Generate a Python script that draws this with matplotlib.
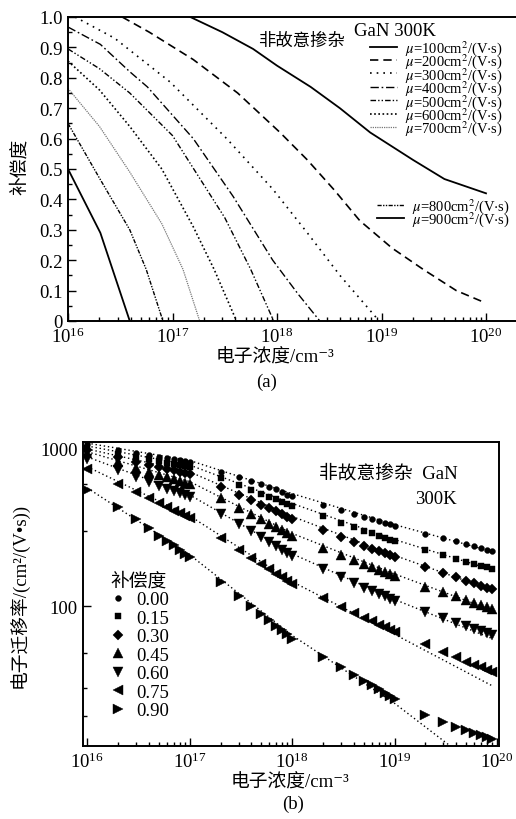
import numpy as np
import matplotlib
matplotlib.use('Agg')
import matplotlib.pyplot as plt
from matplotlib.ticker import LogLocator, FixedLocator, NullFormatter, MultipleLocator, FuncFormatter

plt.rcParams['font.family'] = ['Liberation Serif', 'Noto Sans CJK SC', 'DejaVu Serif']
plt.rcParams['mathtext.fontset'] = 'stix'
plt.rcParams['axes.unicode_minus'] = False

# ---------------- panel (a) data: compensation vs electron concentration ----------------
mu_values = [100, 200, 300, 400, 500, 600, 700, 800, 900]
n_mu100 = [1.48e17, 3.0e17, 5.9e17, 1.0e18, 2.1e18, 4.0e18, 7.8e18, 2.0e19, 4.0e19, 1.0e20]
c_mu100 = [1.0, 0.95, 0.895, 0.84, 0.77, 0.70, 0.62, 0.53, 0.467, 0.42]
n_mu200 = [3.3e16, 6.0e16, 1.58e17, 4.2e17, 1.07e18, 1.95e18, 3.55e18, 6.2e18, 1.26e19, 2.5e19, 5.2e19, 9.8e19]
c_mu200 = [1.0, 0.95, 0.86, 0.75, 0.62, 0.53, 0.43, 0.33, 0.24, 0.17, 0.10, 0.06]
n_mu300 = [1.17e16, 2.8e16, 9.5e16, 3.3e17, 9.1e17, 1.95e18, 4.0e18, 9.5e18]
c_mu300 = [1.0, 0.93, 0.786, 0.60, 0.434, 0.29, 0.15, 0.0]
n_mu400 = [1e16, 2.04e16, 3.9e16, 5.75e16, 1.58e17, 3.8e17, 9.1e17, 1.58e18, 2.57e18]
c_mu400 = [0.967, 0.91, 0.82, 0.77, 0.60, 0.41, 0.20, 0.09, 0.0]
n_mu500 = [1e16, 2e16, 3.9e16, 1e17, 3.16e17, 5.6e17, 9.3e17]
c_mu500 = [0.895, 0.83, 0.75, 0.61, 0.34, 0.17, 0.0]
n_mu600 = [1e16, 2e16, 3.9e16, 7.9e16, 1.58e17, 2.5e17, 4.1e17]
c_mu600 = [0.855, 0.76, 0.64, 0.50, 0.31, 0.17, 0.0]
n_mu700 = [1e16, 2e16, 3.9e16, 7.9e16, 1.26e17, 1.82e17]
c_mu700 = [0.765, 0.64, 0.49, 0.32, 0.17, 0.0]
n_mu800 = [1e16, 2e16, 3.9e16, 5.6e16, 8.1e16]
c_mu800 = [0.65, 0.47, 0.30, 0.17, 0.0]
n_mu900 = [1e16, 2.04e16, 3.9e16]
c_mu900 = [0.50, 0.29, 0.0]

# ---------------- panel (b) data: mobility vs electron concentration ----------------
n_points = [1e16, 2e16, 3e16, 4e16, 5e16, 6e16, 7e16, 8e16, 9e16,
            1e17, 2e17, 3e17, 4e17, 5e17, 6e17, 7e17, 8e17, 9e17,
            1e18, 2e18, 3e18, 4e18, 5e18, 6e18, 7e18, 8e18, 9e18,
            1e19, 2e19, 3e19, 4e19, 5e19, 6e19, 7e19, 8e19, 9e19]
comp_labels = ['0.00', '0.15', '0.30', '0.45', '0.60', '0.75', '0.90']
mob_c000 = [1070, 990, 946, 916, 893, 875, 860, 847, 836,
            826, 718, 660, 622, 598, 575, 553, 532, 512,
            501, 439, 407, 385, 369, 357, 347, 338, 331,
            324, 289, 270, 258, 248, 241, 235, 229, 225]
mob_c015 = [1020, 936, 891, 860, 836, 818, 803, 789, 778,
            768, 655, 592, 550, 520, 496, 477, 461, 447,
            434, 372, 339, 318, 302, 290, 281, 273, 265,
            259, 228, 211, 200, 192, 185, 180, 176, 172]
mob_c030 = [980, 883, 831, 796, 769, 749, 731, 716, 704,
            693, 573, 512, 471, 441, 418, 400, 384, 371,
            358, 303, 274, 256, 242, 232, 223, 216, 210,
            205, 177, 162, 152, 145, 140, 135, 131, 128]
mob_c045 = [940, 821, 759, 716, 686, 662, 642, 626, 611,
            599, 486, 424, 384, 356, 335, 318, 304, 291,
            279, 234, 211, 196, 185, 177, 170, 164, 159,
            155, 133, 122, 115, 109, 105, 101, 99, 96]
mob_c060 = [863, 730, 661, 617, 584, 559, 539, 521, 507,
            494, 388, 334, 299, 275, 256, 241, 229, 218,
            208, 171, 152, 140, 131, 125, 120, 115, 111,
            108, 92, 84, 78, 75, 71, 69, 67, 65]
mob_c075 = [750, 602, 530, 484, 451, 425, 405, 389, 374,
            362, 271, 228, 203, 185, 171, 160, 152, 144,
            138, 112, 99, 90, 84, 80, 76, 73, 70,
            68, 57, 51, 47, 44, 42, 41, 39, 38]
mob_c090 = [548, 425, 358, 312, 281, 260, 243, 226, 214,
            205, 143, 116, 100, 89, 81, 75, 70, 66,
            62, 47.5, 40.7, 36.4, 33.4, 31.2, 29.4, 27.9, 26.7,
            25.6, 20.2, 18.3, 17.0, 16.2, 15.5, 15.0, 14.6, 14.2]
n_fit = [1e16, 1e17, 1e18, 1e19, 9e19]
fit_c000 = [1090, 845, 520, 330, 222]
fit_c015 = [1045, 790, 450, 265, 170]
fit_c030 = [1000, 715, 372, 210, 126]
fit_c045 = [960, 620, 290, 160, 94]
fit_c060 = [890, 510, 215, 110, 62]
fit_c075 = [770, 375, 143, 66, 31]
fit_c090 = [565, 212, 65, 24, 8]

FS = 13.5
W, H = 516, 820
fig = plt.figure(figsize=(W / 100, H / 100), dpi=100)

def fx(px):
    return px / W

def fy(py):
    return 1 - py / H

# ================= panel (a) =================
ax1 = fig.add_axes([fx(68), fy(322), fx(516 - 68), (322 - 18) / H])
curves = [(n_mu100, c_mu100, dict(color='k', lw=1.3, ls='-')),
          (n_mu200, c_mu200, dict(color='k', lw=1.2, ls=(0, (5, 3)))),
          (n_mu300, c_mu300, dict(color='k', lw=1.2, ls=(0, (1, 3)))),
          (n_mu400, c_mu400, dict(color='k', lw=1.0, ls=(0, (6, 2, 1.2, 2)))),
          (n_mu500, c_mu500, dict(color='k', lw=1.0, ls=(0, (4, 1.5, 1, 1.5, 1, 1.5)))),
          (n_mu600, c_mu600, dict(color='k', lw=1.2, ls=(0, (1, 1.5)))),
          (n_mu700, c_mu700, dict(color='#777777', lw=0.9, ls=(0, (1, 0.8)))),
          (n_mu800, c_mu800, dict(color='k', lw=1.0, ls=(0, (3, 1, 1, 1, 1, 1)))),
          (n_mu900, c_mu900, dict(color='k', lw=1.3, ls='-'))]
handles = []
for (nx, cy, st), mu in zip(curves, mu_values):
    h, = ax1.plot(nx, cy, **st, label=r'$\mu$=%dcm$^2$/(V$\cdot$s)' % mu)
    handles.append(h)

ax1.set_xscale('log')
ax1.set_xlim(1e16, 10 ** (16 + 448 / 104.5))
ax1.set_ylim(0, 1.0)
ax1.xaxis.set_major_locator(FixedLocator([1e16, 1e17, 1e18, 1e19, 1e20]))
ax1.xaxis.set_minor_locator(LogLocator(base=10, subs=np.arange(2, 10), numticks=20))
ax1.xaxis.set_minor_formatter(NullFormatter())
ax1.xaxis.set_major_formatter(FuncFormatter(lambda v, p: r'$\mathdefault{10^{%d}}$' % round(np.log10(v))))
ax1.yaxis.set_major_locator(MultipleLocator(0.1))
ax1.yaxis.set_minor_locator(MultipleLocator(0.05))
ax1.yaxis.set_major_formatter(FuncFormatter(lambda v, p: '0' if abs(v) < 1e-9 else '%.1f' % v))
ax1.spines['right'].set_visible(False)
for s in ax1.spines.values():
    s.set_linewidth(1.4)
ax1.tick_params(which='both', direction='in', labelsize=FS, width=1.0)
ax1.tick_params(which='major', length=6, pad=4)
ax1.tick_params(which='minor', length=3)

leg1 = ax1.legend(handles[:7], [h.get_label() for h in handles[:7]], loc='upper left',
                  bbox_to_anchor=((370 - 68) / 448, (322 - 39) / 304), frameon=False,
                  fontsize=10.5, handlelength=1.85, handletextpad=0.55, labelspacing=-0.38,
                  borderpad=0, borderaxespad=0)
ax1.add_artist(leg1)
ax1.legend(handles[7:], [h.get_label() for h in handles[7:]], loc='upper left',
           bbox_to_anchor=((377 - 68) / 448, (322 - 197) / 304), frameon=False,
           fontsize=10.5, handlelength=1.85, handletextpad=0.55, labelspacing=-0.38,
           borderpad=0, borderaxespad=0)

fig.text(fx(395), fy(31), 'GaN 300K', fontsize=FS, ha='center', va='center')
fig.text(fx(301), fy(42), '非故意掺杂', fontsize=12.5, ha='center', va='center')
fig.text(fx(20), fy(167), '补偿度', fontsize=FS, rotation=90, ha='center', va='center')
fig.text(fx(275), fy(358), '电子浓度/cm⁻³', fontsize=FS, ha='center', va='center')
fig.text(fx(267), fy(382), '(a)', fontsize=FS, ha='center', va='center')

# ================= panel (b) =================
ax2 = fig.add_axes([fx(83), fy(747), fx(499 - 83), (747 - 443) / H])
series = [mob_c000, mob_c015, mob_c030, mob_c045, mob_c060, mob_c075, mob_c090]
fits = [fit_c000, fit_c015, fit_c030, fit_c045, fit_c060, fit_c075, fit_c090]
markers = ['o', 's', 'D', '^', 'v', '<', '>']
msizes = [4.2, 4.0, 5.5, 7, 7, 7, 7]
mh = []
for mob, fit, m, ms, lab in zip(series, fits, markers, msizes, comp_labels):
    ax2.plot(n_fit, fit, color='k', lw=1.0, ls=(0, (1, 2)))
    h, = ax2.plot(n_points, mob, ls='none', marker=m, ms=ms, color='k',
                  markeredgewidth=0.3, label=lab)
    mh.append(h)

ax2.set_xscale('log')
ax2.set_yscale('log')
ax2.set_xlim(10 ** (16 - 4.3 / 102.5), 10 ** (20 + 2 / 102.5))
ax2.set_ylim(10 ** (2 - 140 / 157), 10 ** (3 + 7 / 157))
ax2.xaxis.set_major_locator(FixedLocator([1e16, 1e17, 1e18, 1e19, 1e20]))
ax2.xaxis.set_minor_locator(LogLocator(base=10, subs=np.arange(2, 10), numticks=20))
ax2.xaxis.set_minor_formatter(NullFormatter())
ax2.xaxis.set_major_formatter(FuncFormatter(lambda v, p: r'$\mathdefault{10^{%d}}$' % round(np.log10(v))))
ax2.yaxis.set_major_locator(FixedLocator([100, 1000]))
ax2.yaxis.set_major_formatter(FuncFormatter(lambda v, p: '%d' % v))
ax2.yaxis.set_minor_locator(FixedLocator([20, 30, 50, 300, 600]))
ax2.yaxis.set_minor_formatter(NullFormatter())
for s in ax2.spines.values():
    s.set_linewidth(1.4)
ax2.tick_params(which='both', direction='in', labelsize=FS, width=1.0)
ax2.tick_params(which='major', length=6, pad=4)
ax2.tick_params(which='minor', length=3)

ax2.legend(mh, comp_labels, title='补偿度', loc='upper left',
           bbox_to_anchor=((110 - 83) / 416, (747 - 573) / 304), frameon=False,
           fontsize=FS, title_fontsize=FS, handlelength=0.8, handletextpad=0.6,
           labelspacing=0.075, borderpad=0, borderaxespad=0, alignment='left')

fig.text(fx(458), fy(474), '非故意掺杂  GaN', fontsize=FS, ha='right', va='center')
fig.text(fx(457), fy(500), '300K', fontsize=FS, ha='right', va='center')
fig.text(fx(19), fy(595), '电子迁移率/(cm²/(V•s))', fontsize=FS, rotation=90, ha='center', va='center')
fig.text(fx(290), fy(783), '电子浓度/cm⁻³', fontsize=FS, ha='center', va='center')
fig.text(fx(293), fy(804), '(b)', fontsize=FS, ha='center', va='center')

fig.savefig('out.png', dpi=100)
